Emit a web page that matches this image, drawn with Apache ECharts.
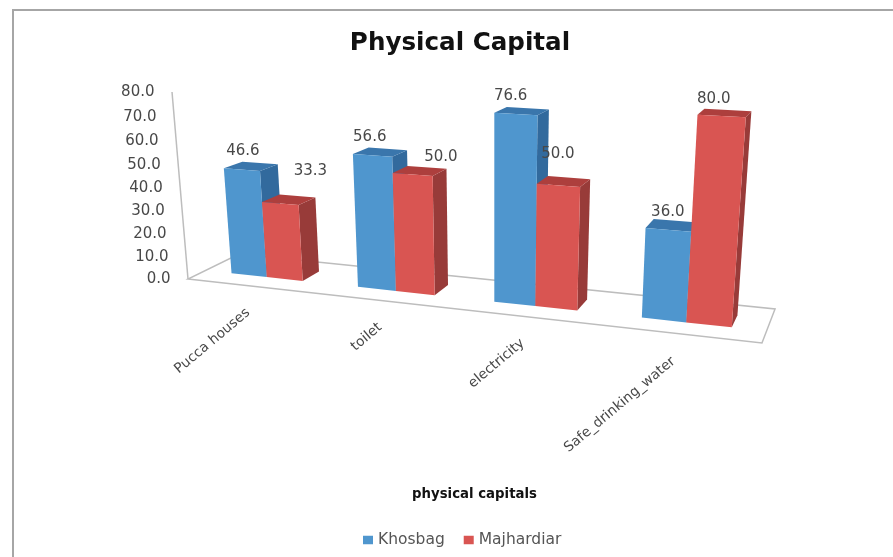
<!DOCTYPE html>
<html>
<head>
<meta charset="utf-8">
<style>html,body{margin:0;padding:0;background:#fff}#chart{width:893px;height:557px}</style>
<script src="https://cdn.jsdelivr.net/npm/echarts@6/dist/echarts.min.js"></script>
</head>
<body>
<div id="chart"></div>
<script>
// Survey results
const categories = ['Pucca houses', 'toilet', 'electricity', 'Safe_drinking_water'];
const khosbag = [46.6, 56.6, 76.6, 36.0];
const majhardiar = [33.3, 50.0, 50.0, 80.0];
const valueTicks = [0, 10, 20, 30, 40, 50, 60, 70, 80];

// Label offsets from the back edge of each bar's top, in pixels
const khosbagLabelNudge = [[-17, -12], [-18, -12], [-17, -12], [-8, -9]];
const majhardiarLabelNudge = [[13, -25], [14, -10], [-11, -23], [-14, -11]];

const TEXT = '#484848';
const FONT = '"DejaVu Sans"';
const FRAME = '#bdbdbd';
const BAR_DEPTH = [0.33, 0.69];
const BAR_BAND_SHARE = 0.286;

// Perspective camera: maps (u along categories, d into the floor, h up the wall) to the canvas
function project(u, d, h) {
  const w = 1 - 0.148 * u + 0.0744 * d - 0.0495 * h;
  return [
    (188 + 461.2 * u + 68.8 * d - 24.5 * h) / w,
    (279 + 13.2 * u - 6 * d - 191.55 * h) / w
  ];
}

// Plain plot coordinates from the grid become unit coordinates for the camera
function toUnit(pt, cs) {
  return [(pt[0] - cs.x) / cs.width, (cs.y + cs.height - pt[1]) / cs.height];
}

function barRenderer(side, faces, nudges) {
  return function (params, api) {
    const cs = params.coordSys;
    const idx = api.value(0);
    const value = api.value(1);
    const [uc, h] = toUnit(api.coord([idx, value]), cs);
    const share = api.size([1, 0])[0] / cs.width * BAR_BAND_SHARE;
    const u0 = side < 0 ? uc - share : uc;
    const u1 = side < 0 ? uc : uc + share;
    const [d0, d1] = BAR_DEPTH;
    const poly = (pts, fill) => ({
      type: 'polygon',
      shape: { points: pts.map(p => project(p[0], p[1], p[2])) },
      style: { fill: fill }
    });
    const back = project((u0 + u1) / 2, d1, h);
    const nudge = nudges[idx];
    return {
      type: 'group',
      children: [
        poly([[u1, d0, 0], [u1, d1, 0], [u1, d1, h], [u1, d0, h]], faces.side),
        poly([[u0, d0, h], [u1, d0, h], [u1, d1, h], [u0, d1, h]], faces.top),
        poly([[u0, d0, 0], [u1, d0, 0], [u1, d0, h], [u0, d0, h]], faces.front),
        {
          type: 'text',
          z2: 10,
          style: {
            text: value.toFixed(1),
            x: back[0] + nudge[0],
            y: back[1] + nudge[1],
            align: 'center',
            verticalAlign: 'middle',
            fill: TEXT,
            font: '15px ' + FONT
          }
        }
      ]
    };
  };
}

// Floor outline, sloped value axis and its tick labels
function frameRenderer(params, api) {
  const cs = params.coordSys;
  const corners = [[0, 0], [1, 0], [1, 1], [0, 1]].map(c => project(c[0], c[1], 0));
  const base = project(0, 0, 0);
  const top = project(0, 0, 1);
  const children = [
    { type: 'polygon', shape: { points: corners }, style: { fill: 'none', stroke: FRAME, lineWidth: 1.5 } },
    { type: 'line', shape: { x1: base[0], y1: base[1], x2: top[0], y2: top[1] }, style: { stroke: FRAME, lineWidth: 1.5 } }
  ];
  valueTicks.forEach(t => {
    const h = toUnit(api.coord([0, t]), cs)[1];
    const p = project(0, 0, h);
    children.push({
      type: 'text',
      style: {
        text: t.toFixed(1), x: p[0] - 17.5, y: p[1] + 0.5,
        align: 'right', verticalAlign: 'middle', fill: TEXT, font: '15px ' + FONT
      }
    });
  });
  return { type: 'group', children };
}

// Slanted category labels hanging from the front edge of the floor
function categoryRenderer(params, api) {
  const cs = params.coordSys;
  const idx = api.value(0);
  const u = toUnit(api.coord([idx, 0]), cs)[0];
  const p = project(u, 0, 0);
  return {
    type: 'text',
    x: p[0] + (idx === 3 ? -6 : -2),
    y: p[1] + (idx === 3 ? 26 : 25),
    rotation: 40 * Math.PI / 180,
    style: {
      text: categories[idx], x: 0, y: 0,
      align: 'right', verticalAlign: 'middle', fill: TEXT, font: '13.8px ' + FONT
    }
  };
}

const chart = echarts.init(document.getElementById('chart'), null, { renderer: 'canvas' });
chart.setOption({
  animation: false,
  backgroundColor: '#ffffff',
  title: [
    {
      text: 'Physical Capital', left: 455, top: 26, textAlign: 'center',
      textStyle: { fontFamily: FONT, fontWeight: 'bold', fontSize: 24.6, color: '#111' }
    },
    {
      text: 'physical capitals', left: 469.5, top: 483, textAlign: 'center',
      textStyle: { fontFamily: FONT, fontWeight: 'bold', fontSize: 13.3, color: '#111' }
    }
  ],
  legend: {
    data: ['Khosbag', 'Majhardiar'],
    left: 358, top: 527, icon: 'rect', itemWidth: 10, itemHeight: 8.5, itemGap: 19,
    textStyle: { fontFamily: FONT, fontSize: 15.5, color: '#555' }
  },
  grid: { left: 100, right: 100, top: 100, bottom: 100 },
  xAxis: { type: 'category', data: categories, show: false },
  yAxis: { type: 'value', min: 0, max: 80, interval: 10, show: false },
  graphic: [
    { type: 'polyline', silent: true, shape: { points: [[13, 557], [13, 10], [893, 10]] }, style: { fill: 'none', stroke: '#a6a6a6', lineWidth: 2 } }
  ],
  series: [
    { type: 'custom', name: 'frame', renderItem: frameRenderer, data: [[0, 0]], clip: false, silent: true },
    { type: 'custom', name: 'categories', renderItem: categoryRenderer, data: categories.map((c, i) => [i, 0]), clip: false, silent: true },
    {
      type: 'custom', name: 'Khosbag', clip: false,
      itemStyle: { color: '#4f96ce' },
      renderItem: barRenderer(-1, { front: '#4f96ce', side: '#326a9d', top: '#3a76ac' }, khosbagLabelNudge),
      data: khosbag.map((v, i) => [i, v])
    },
    {
      type: 'custom', name: 'Majhardiar', clip: false,
      itemStyle: { color: '#d95552' },
      renderItem: barRenderer(1, { front: '#d95552', side: '#983b39', top: '#ad3f3d' }, majhardiarLabelNudge),
      data: majhardiar.map((v, i) => [i, v])
    }
  ]
});
</script>
</body>
</html>
